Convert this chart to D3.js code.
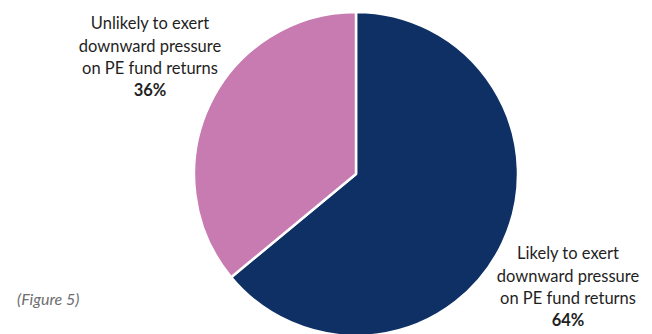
<!DOCTYPE html>
<html>
<head>
<meta charset="utf-8">
<script src="https://cdn.jsdelivr.net/npm/d3@7"></script>
<style>
  body { margin: 0; background: #fff; }
  text { font-family: Lato, "Open Sans", sans-serif; }
</style>
</head>
<body>
<div id="chart"></div>
<script>
// chart data
const categories = ["Likely to exert downward pressure on PE fund returns",
                    "Unlikely to exert downward pressure on PE fund returns"];
const values = [64, 36];
const colors = ["#0e3065", "#c77bb1"];

const width = 652;
const height = 334;
const cx = 356, cy = 174, radius = 162;

const svg = d3.select("#chart")
    .append("svg")
    .attr("width", width)
    .attr("height", height);

const pie = d3.pie().sort(null).value(d => d.value);
const arc = d3.arc().innerRadius(0).outerRadius(radius);

const data = categories.map((c, i) => ({label: c, value: values[i], color: colors[i]}));

const g = svg.append("g").attr("transform", `translate(${cx},${cy})`);

g.selectAll("path")
    .data(pie(data))
    .enter()
    .append("path")
    .attr("d", arc)
    .attr("fill", d => d.data.color)
    .attr("stroke", "#fff")
    .attr("stroke-width", 2.5)
    .attr("stroke-linejoin", "round");

// labels, placed beside the slices
const labelPos = [{x: 568, y: 259}, {x: 150, y: 29}];
const lineH = 22.5;

data.forEach((d, i) => {
    const words = d.label.split(" ");
    const lines = [words.slice(0, 3).join(" "), words.slice(3, 5).join(" "), words.slice(5).join(" ")];
    const t = svg.append("text")
        .attr("text-anchor", "middle")
        .attr("fill", "#1f1f1f")
        .style("font-size", "16.5px");
    lines.forEach((l, j) => {
        t.append("tspan")
            .attr("x", labelPos[i].x)
            .attr("y", labelPos[i].y + j * lineH)
            .text(l);
    });
    t.append("tspan")
        .attr("x", labelPos[i].x)
        .attr("y", labelPos[i].y + 3 * lineH - 1)
        .style("font-weight", "bold")
        .text(d.value + "%");
});

svg.append("text")
    .attr("x", 17)
    .attr("y", 305)
    .attr("fill", "#6d6e71")
    .style("font-size", "16px")
    .style("font-style", "italic")
    .text("(Figure 5)");
</script>
</body>
</html>
